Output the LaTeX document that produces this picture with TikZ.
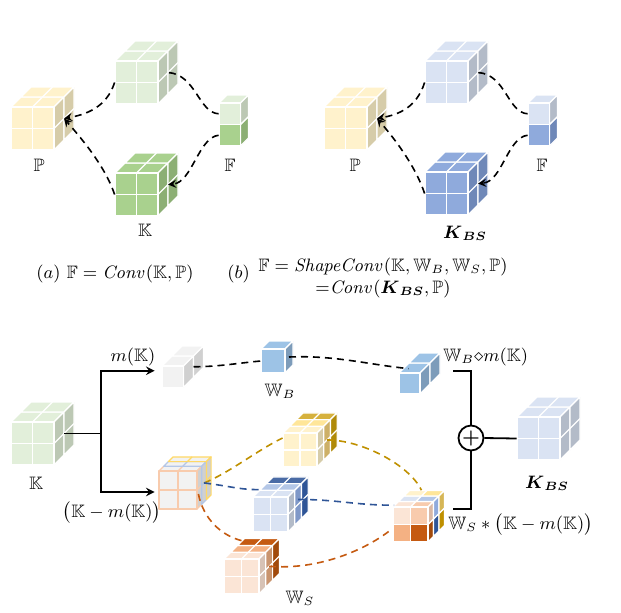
\documentclass[tikz,border=0pt]{standalone}
\usepackage{amsmath,amssymb}
\usepackage{tikz}
\usetikzlibrary{arrows,calc,positioning,fit}
\definecolor{cYel}{HTML}{FFF2CC}
\definecolor{cYelS}{HTML}{D6CCA9}
\definecolor{cLgr}{HTML}{E2EFDA}
\definecolor{cLgrS}{HTML}{BCC8B4}
\definecolor{cGrn}{HTML}{A9D18E}
\definecolor{cGrnS}{HTML}{8CAF74}
\definecolor{cLbl}{HTML}{DAE3F3}
\definecolor{cLblS}{HTML}{B3BBC8}
\definecolor{cBlu}{HTML}{8FAADC}
\definecolor{cBluS}{HTML}{6F88B8}
\definecolor{cGry}{HTML}{F2F2F2}
\definecolor{cGryS}{HTML}{D0D0D0}
\definecolor{cWb}{HTML}{9DC3E6}
\definecolor{cWbS}{HTML}{7D9CBA}
\definecolor{cYel2}{HTML}{FFE699}
\definecolor{cYel3}{HTML}{D6B13C}
\definecolor{cYelS2}{HTML}{CDB067}
\definecolor{cYelS3}{HTML}{B08A08}
\definecolor{cBlu2}{HTML}{B4C7E7}
\definecolor{cBlu3}{HTML}{4A6BA5}
\definecolor{cBluS2}{HTML}{7F98C8}
\definecolor{cBluS3}{HTML}{2F5597}
\definecolor{cOra1}{HTML}{FBE5D6}
\definecolor{cOra1b}{HTML}{F8CBAD}
\definecolor{cOra2}{HTML}{F4B183}
\definecolor{cOra3}{HTML}{C55A11}
\definecolor{cOraS}{HTML}{D7C2B5}
\definecolor{cOraS2}{HTML}{C9946E}
\definecolor{cOraS3}{HTML}{A14A0C}
\definecolor{cWsS1}{HTML}{D9B8A5}
\definecolor{cWsS3}{HTML}{D6B656}
\definecolor{cEdgeO}{HTML}{F8CBAD}
\definecolor{cEdgeB}{HTML}{B4C7E7}
\definecolor{cEdgeY}{HTML}{FFD966}
\definecolor{cGold}{HTML}{BF9000}
\definecolor{cNavy}{HTML}{2F5597}
\definecolor{cRust}{HTML}{C55A11}
\tikzset{cubeline/.style={line width=0.6pt, line join=round},
  link/.style={dash pattern=on 3.5pt off 2.5pt, line width=0.8pt},
  wire/.style={line width=0.9pt},
  tag/.style={inner sep=1pt, font=\small}}
% #1 name, (#2,#3) top left of front face, #4 x #5 cells of size #6,
% #7 depth of one layer, #8 front colour, #9 layers top/side/line, front to back
\newcommand{\cube}[9]{%
  \pgfmathsetmacro\cw{#4*#6}%
  \pgfmathsetmacro\ch{#5*#6}%
  \foreach \tc/\sc/\lc [count=\k] in {#9} {%
    \pgfmathsetmacro\dlo{(\k-1)*#7}%
    \pgfmathsetmacro\dhi{\k*#7}%
    \ifnum\k=1 \xdef\cubeedge{\lc}\fi
    \xdef\cubenz{\k}%
    \filldraw[cubeline, fill=\tc, draw=\lc] (#2+\dlo,#3-\dlo) -- (#2+\cw+\dlo,#3-\dlo)
      -- (#2+\cw+\dhi,#3-\dhi) -- (#2+\dhi,#3-\dhi) -- cycle;
    \filldraw[cubeline, fill=\sc, draw=\lc] (#2+\cw+\dlo,#3-\dlo) -- (#2+\cw+\dhi,#3-\dhi)
      -- (#2+\cw+\dhi,#3+\ch-\dhi) -- (#2+\cw+\dlo,#3+\ch-\dlo) -- cycle;
    \ifnum#4>1 \foreach \i in {2,...,#4} {%
      \draw[cubeline, draw=\lc] (#2+\i*#6-#6+\dlo,#3-\dlo) -- (#2+\i*#6-#6+\dhi,#3-\dhi);}\fi
    \ifnum#5>1 \foreach \j in {2,...,#5} {%
      \draw[cubeline, draw=\lc] (#2+\cw+\dlo,#3+\j*#6-#6-\dlo) -- (#2+\cw+\dhi,#3+\j*#6-#6-\dhi);}\fi
  }%
  \filldraw[cubeline, fill=#8, draw=\cubeedge] (#2,#3) rectangle (#2+\cw,#3+\ch);
  \ifnum#4>1 \foreach \i in {2,...,#4} {\draw[cubeline, draw=\cubeedge] (#2+\i*#6-#6,#3) -- ++(0,\ch);}\fi
  \ifnum#5>1 \foreach \j in {2,...,#5} {\draw[cubeline, draw=\cubeedge] (#2,#3+\j*#6-#6) -- ++(\cw,0);}\fi
  \pgfmathsetmacro\dd{\cubenz*#7}%
  \node[fit={(#2,#3) (#2+\cw,#3+\ch)}, inner sep=0pt] (#1) {};
  \coordinate (#1-side) at (#2+\cw+0.5*\dd,#3+0.5*\ch-0.5*\dd);
  \coordinate (#1-top) at (#2+0.5*\cw+0.5*\dd,#3-0.5*\dd);
}

\begin{document}
\begin{tikzpicture}[x=0.5pt,y=-0.5pt]
  \useasboundingbox (0,0) rectangle (621,612);
  % (a) Conv
  \cube{pa}{11}{107}{2}{2}{21.5}{10}{cYel}{cYel/cYelS/white,cYel/cYelS/white}
  \cube{ua}{115}{61}{2}{2}{21.5}{10}{cLgr}{cLgr/cLgrS/white,cLgr/cLgrS/white}
  \cube{ka}{115}{173}{2}{2}{21.5}{10}{cGrn}{cGrn/cGrnS/white,cGrn/cGrnS/white}
  \cube{fa2}{219}{124.5}{1}{1}{21.5}{8}{cGrn}{cGrn/cGrnS/white}
  \cube{fa1}{219}{103}{1}{1}{21.5}{8}{cLgr}{cLgr/cLgrS/white}
  \node[tag] at (39,165) {$\mathbb{P}$};
  \node[tag] at (230,165) {$\mathbb{F}$};
  \node[tag] at (145,230) {$\mathbb{K}$};
  \draw[link,-stealth] (ua.west) .. controls +(-8,25) and +(22,-4) .. (pa-side);
  \draw[link,-stealth] (ka.west) .. controls +(-10,-30) and +(14,16) .. (pa-side);
  \draw[link] (fa1.west) .. controls +(-20,-1) and +(28,2) .. (ua-side);
  \draw[link,-stealth] (fa2.west) .. controls +(-20,2) and +(24,-2) .. (ka-side);
  \node[tag] (capa) at (115,274) {$(a)\ \mathbb{F}=\mathit{Conv}(\mathbb{K},\mathbb{P})$};
  % (b) ShapeConv
  \cube{pb}{324}{107}{2}{2}{21.5}{10}{cYel}{cYel/cYelS/white,cYel/cYelS/white}
  \cube{ub}{425}{61}{2}{2}{21.5}{10}{cLbl}{cLbl/cLblS/white,cLbl/cLblS/white}
  \cube{kb}{425}{172}{2}{2}{21.5}{10}{cBlu}{cBlu/cBluS/white,cBlu/cBluS/white}
  \cube{fb2}{528}{124.5}{1}{1}{21.5}{8}{cBlu}{cBlu/cBluS/white}
  \cube{fb1}{528}{103}{1}{1}{21.5}{8}{cLbl}{cLbl/cLblS/white}
  \node[tag] at (355,165) {$\mathbb{P}$};
  \node[tag] at (542,165) {$\mathbb{F}$};
  \node[tag] at (465,233) {$\boldsymbol{K}_{\boldsymbol{BS}}$};
  \draw[link,-stealth] (ub.west) .. controls +(-8,25) and +(22,-4) .. (pb-side);
  \draw[link,-stealth] (kb.west) .. controls +(-10,-30) and +(14,16) .. (pb-side);
  \draw[link] (fb1.west) .. controls +(-20,-1) and +(28,2) .. (ub-side);
  \draw[link,-stealth] (fb2.west) .. controls +(-20,2) and +(24,-2) .. (kb-side);
  \node[tag, align=center] (capb) at (383,278)
    {$\mathbb{F}=\mathit{ShapeConv}(\mathbb{K},\mathbb{W}_B,\mathbb{W}_S,\mathbb{P})$\\
     =$\mathit{Conv}(\boldsymbol{K}_{\boldsymbol{BS}},\mathbb{P})$};
  \node[tag, left=2pt of capb, yshift=2pt] {$(b)$};
  % bottom: building K_BS
  \cube{kc}{11}{422}{2}{2}{21.5}{10}{cLgr}{cLgr/cLgrS/white,cLgr/cLgrS/white}
  \cube{mk}{162}{366}{1}{1}{21.5}{10}{cGry}{cGry/cGryS/white,cGry/cGryS/white}
  \cube{wb}{261}{349}{1}{1}{24}{8}{cWb}{cWb/cWbS/white}
  \cube{wbm}{399}{373}{1}{1}{21}{10}{cWb}{cWb/cWbS/white,cWb/cWbS/white}
  \cube{kbs}{517}{417}{2}{2}{21.5}{10}{cLbl}{cLbl/cLblS/white,cLbl/cLblS/white}
  \cube{km}{159}{471}{2}{2}{19}{4.7}{cGry}{cGry/cGryS/cEdgeO,cGry/cGryS/cEdgeB,cGry/cGryS/cEdgeY}
  \cube{yw}{283}{433}{2}{2}{17}{6.7}{cYel}{cYel/cYelS/white,cYel2/cYelS2/white,cYel3/cYelS3/white}
  \cube{bl}{253}{497}{2}{2}{17.5}{6.7}{cLbl}{cLbl/cLblS/white,cBlu2/cBluS2/white,cBlu3/cBluS3/white}
  \cube{or}{224}{559}{2}{2}{17.5}{6.8}{cOra1}{cOra1/cOraS/white,cOra2/cOraS2/white,cOra3/cOraS3/white}
  \cube{wsbl}{393}{524.5}{1}{1}{17.5}{5.5}{cOra2}{cOra2/cOraS3/white,cBlu2/cBluS3/white,cYel2/cGold/white}
  \cube{wsbr}{410.5}{524.5}{1}{1}{17.5}{5.5}{cOra3}{cOra3/cOraS3/white,cBlu2/cBluS3/white,cYel2/cGold/white}
  \cube{wstl}{393}{507}{1}{1}{17.5}{5.5}{cOra1}{cOra1/cWsS1/white,cLbl/cBlu/white,cYel/cWsS3/white}
  \cube{wstr}{410.5}{507}{1}{1}{17.5}{5.5}{cOra1b}{cOra1b/cWsS1/white,cBlu2/cBlu/white,cYel2/cWsS3/white}
  \node[fit=(wstl)(wsbr), inner sep=0pt] (wsk) {};
  % split of K
  \coordinate (split) at ($(kc-side)+(37,0)$);
  \draw[wire] (kc-side) -- (split);
  \draw[wire,-stealth] (split) |- ($(mk.west)+(-7,-6)$);
  \draw[wire,-stealth] (split) |- ($(km.west)+(-4,2)$);
  \node[tag] at (36,483) {$\mathbb{K}$};
  \node[tag] at (133,357) {$m(\mathbb{K})$};
  \node[tag] at (112,513) {$\big(\mathbb{K}-m(\mathbb{K})\big)$};
  \node[tag] at (280,391) {$\mathbb{W}_B$};
  \node[tag] at (300,598) {$\mathbb{W}_S$};
  % dashed flows
  \draw[link] (mk-side) .. controls +(25,0) and +(-22,2) .. (wb.west);
  \draw[link] (wb-side) .. controls +(45,-2) and +(-40,-4) .. ($(wbm.north)+(-1,-4)$);
  \draw[link,cGold] (km-side) .. controls +(25,-10) and +(-25,12) .. ($(yw.west)+(0,-12)$);
  \draw[link,cGold] (yw-side) .. controls +(35,0) and +(-12,-25) .. ($(wsk.north)+(11,-16)$);
  \draw[link,cNavy] (km-side) .. controls +(25,3) and +(-20,0) .. ($(bl.north west)+(6,-7)$);
  \draw[link,cNavy] ($(bl-side)+(0,-5)$) .. controls +(40,0) and +(-40,0) .. ($(wsk.north west)+(2,-1)$);
  \draw[link,cRust] ($(km.east)+(1,4)$) .. controls +(5,25) and +(-20,-5) .. ($(or.north)+(0,-18)$);
  \draw[link,cRust] (or-side) .. controls +(50,4) and +(-25,20) .. ($(wsk.west)+(-1,5)$);
  % sum
  \node[circle, draw, wire, minimum size=12.5pt, inner sep=0pt] (sum) at (471,438) {$\boldsymbol{+}$};
  \coordinate (sumin1) at (453,371);
  \coordinate (sumin2) at (453,509);
  \draw[wire] (sumin1) -| (sum.north);
  \draw[wire] (sumin2) -| (sum.south);
  \draw[wire] (sum.east) -- (kbs.west);
  \node[tag, anchor=west] at (441,357) {$\mathbb{W}_B{\diamond}m(\mathbb{K})$};
  \node[tag, anchor=west] at (446,525) {$\mathbb{W}_S*\big(\mathbb{K}-m(\mathbb{K})\big)$};
  \node[tag] at (547,483) {$\boldsymbol{K}_{\boldsymbol{BS}}$};
\end{tikzpicture}
\end{document}
